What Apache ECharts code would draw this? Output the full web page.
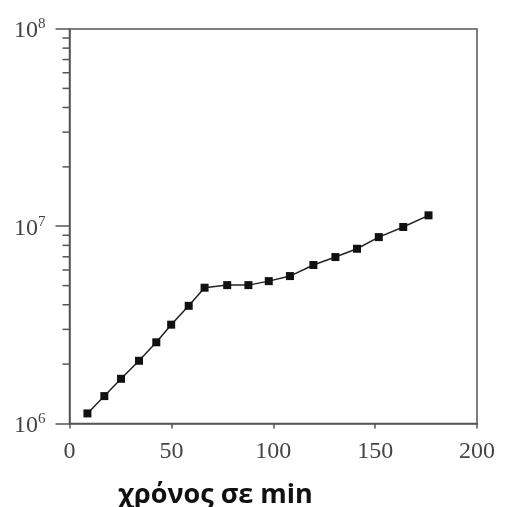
<!DOCTYPE html>
<html>
<head>
<meta charset="utf-8">
<script src="https://cdn.jsdelivr.net/npm/echarts@6/dist/echarts.min.js"></script>
<style>
  html, body { margin: 0; padding: 0; background: #fff; }
  #main { width: 506px; height: 507px; }
</style>
</head>
<body>
<div id="main"></div>
<script>
// time in minutes
const times = [8.8, 17.1, 25.3, 34.1, 42.6, 49.9, 58.5, 66.3, 77.4, 87.8,
    97.8, 108.2, 119.7, 130.5, 141.1, 151.8, 163.8, 176.2];
// counts (log scale)
const counts = [1.125e6, 1.377e6, 1.685e6, 2.08e6, 2.58e6, 3.17e6, 3.95e6, 4.88e6, 5.03e6, 5.03e6,
    5.27e6, 5.59e6, 6.36e6, 6.98e6, 7.69e6, 8.81e6, 9.91e6, 1.136e7];
const xTicks = [0, 50, 100, 150, 200];
const decades = [6, 7, 8];
const xTitle = 'χρόνος σε min';

const axisColor = '#555';
const labelColor = '#444';

// minor ticks 2..9 x 10^n, drawn by hand since log axis minor ticks are linear in exponent
const minorTicks = [];
for (let d = decades[0]; d < decades[decades.length - 1]; d++) {
    for (let k = 2; k <= 9; k++) {
        minorTicks.push([0, k * Math.pow(10, d)]);
    }
}

const chart = echarts.init(document.getElementById('main'));

chart.setOption({
    animation: false,
    grid: {
        left: 69.5, right: 29, top: 29, bottom: 83.5,
        show: true,
        borderColor: axisColor,
        borderWidth: 1.5
    },
    xAxis: {
        type: 'value',
        min: xTicks[0],
        max: xTicks[xTicks.length - 1],
        interval: 50,
        splitLine: { show: false },
        axisLine: { lineStyle: { color: axisColor, width: 1.5 } },
        axisTick: { length: 5, lineStyle: { color: axisColor, width: 1.5 } },
        axisLabel: {
            margin: 16,
            color: labelColor,
            fontFamily: 'Liberation Serif',
            fontSize: 24
        }
    },
    yAxis: {
        type: 'log',
        logBase: 10,
        min: Math.pow(10, decades[0]),
        max: Math.pow(10, decades[decades.length - 1]),
        splitLine: { show: false },
        axisLine: { lineStyle: { color: axisColor, width: 1.5 } },
        axisTick: { length: 14, lineStyle: { color: axisColor, width: 1.5 } },
        axisLabel: {
            margin: 24,
            color: labelColor,
            formatter: function (v) {
                const e = Math.round(Math.log10(v));
                return '{b|10}{s|' + e + '}';
            },
            rich: {
                b: { fontFamily: 'Liberation Serif', fontSize: 24, color: labelColor, lineHeight: 24, padding: [4, 0, 0, 0] },
                s: { fontFamily: 'Liberation Serif', fontSize: 15, color: labelColor, verticalAlign: 'top', lineHeight: 14 }
            }
        }
    },
    graphic: [{
        type: 'text',
        left: 118,
        top: 482,
        style: {
            text: xTitle,
            fontFamily: 'Open Sans',
            fontWeight: 'bold',
            fontSize: 27,
            fill: '#111'
        }
    }],
    series: [{
        type: 'line',
        data: times.map((t, i) => [t, counts[i]]),
        symbol: 'rect',
        symbolSize: 8,
        itemStyle: { color: '#111' },
        lineStyle: { color: '#222', width: 1.5 }
    }, {
        type: 'custom',
        clip: false,
        silent: true,
        data: minorTicks,
        renderItem: function (params, api) {
            const p = api.coord([api.value(0), api.value(1)]);
            return {
                type: 'line',
                shape: { x1: p[0] - 7, y1: p[1], x2: p[0], y2: p[1] },
                style: { stroke: axisColor, lineWidth: 1.5 }
            };
        }
    }]
});
</script>
</body>
</html>
